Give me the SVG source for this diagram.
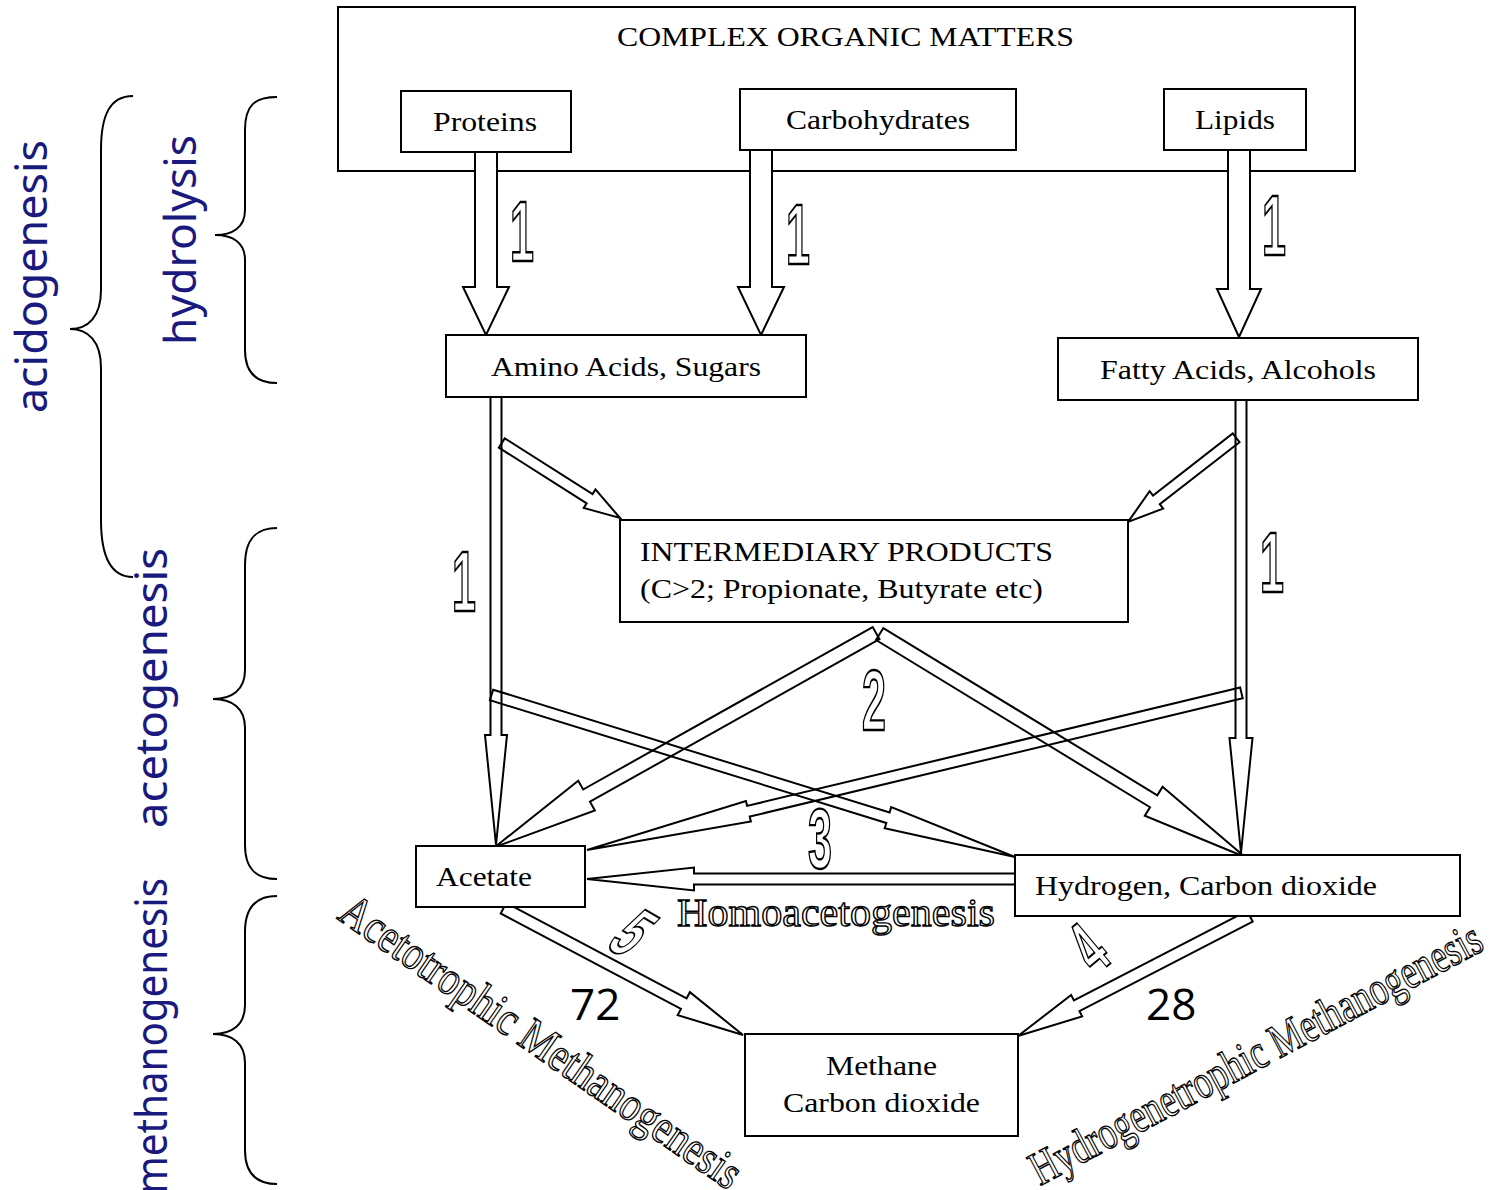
<svg xmlns="http://www.w3.org/2000/svg" width="1493" height="1190" viewBox="0 0 1493 1190">
<style>
.box{fill:#fff;stroke:#000;stroke-width:2}
.t{font-family:"Liberation Serif",serif;font-size:28px;fill:#000}
.arw{fill:#fff;stroke:#000;stroke-width:2;stroke-linejoin:miter}
.thin{fill:none;stroke:#000;stroke-width:2;stroke-linejoin:miter}
.num{font-family:"Liberation Sans",sans-serif;font-weight:bold;font-size:86px;fill:#fff;stroke:#000;stroke-width:2.4;text-anchor:middle}
.ol{font-family:"Liberation Serif",serif;fill:#fff;stroke:#000;stroke-width:1.4}
.phase{font-family:"Noto Sans",sans-serif;fill:#1a1a7e;font-size:44px}
.brace{fill:none;stroke:#000;stroke-width:2}
.pct{font-family:"Open Sans",sans-serif;font-size:44px;fill:#000}
</style>
<rect width="1493" height="1190" fill="#fff"/>

<g id="phases">
  <path class="brace" d="M133,96 C110,96 101,115 101,150 L101,290 C101,317 88,329 70,329 C88,329 101,341 101,368 L101,520 C101,555 110,577 133,577"/>
  <path class="brace" d="M277,97 C255,97 245,105 245,130 L245,210 C245,228 232,235 215,235 C232,235 245,242 245,260 L245,350 C245,372 255,383 277,383"/>
  <path class="brace" d="M277,528 C255,528 245,540 245,565 L245,670 C245,690 232,699 213,699 C232,699 245,708 245,728 L245,845 C245,868 255,879 277,879"/>
  <path class="brace" d="M277,896 C255,896 245,908 245,932 L245,1005 C245,1025 232,1034 213,1034 C232,1034 245,1043 245,1063 L245,1150 C245,1172 255,1184 277,1184"/>
  <text class="phase" transform="translate(47,413) rotate(-90)" textLength="273" lengthAdjust="spacingAndGlyphs">acidogenesis</text>
  <text class="phase" transform="translate(196,345) rotate(-90)" textLength="210" lengthAdjust="spacingAndGlyphs">hydrolysis</text>
  <text class="phase" transform="translate(167,828) rotate(-90)" textLength="280" lengthAdjust="spacingAndGlyphs">acetogenesis</text>
  <text class="phase" transform="translate(167,1194) rotate(-90)" textLength="316" lengthAdjust="spacingAndGlyphs">methanogenesis</text>
</g>

<g id="complex">
  <rect class="box" x="338" y="7" width="1017" height="164"/>
  <text class="t" x="617" y="46" textLength="457" lengthAdjust="spacingAndGlyphs">COMPLEX ORGANIC MATTERS</text>
</g>
<g id="proteins">
  <rect class="box" x="401" y="91" width="170" height="61"/>
  <text class="t" x="433" y="131" textLength="104" lengthAdjust="spacingAndGlyphs">Proteins</text>
</g>
<g id="carbohydrates">
  <rect class="box" x="740" y="89" width="276" height="61"/>
  <text class="t" x="786" y="129" textLength="184" lengthAdjust="spacingAndGlyphs">Carbohydrates</text>
</g>
<g id="lipids">
  <rect class="box" x="1164" y="89" width="142" height="61"/>
  <text class="t" x="1195" y="129" textLength="80" lengthAdjust="spacingAndGlyphs">Lipids</text>
</g>

<g id="connectors">
  <polygon class="arw" transform="translate(486,335) rotate(90)" points="-183,-11 -48,-11 -48,-23 0,0 -48,23 -48,11 -183,11"/>
  <polygon class="arw" transform="translate(761,335) rotate(90)" points="-185,-11 -48,-11 -48,-23 0,0 -48,23 -48,11 -185,11"/>
  <polygon class="arw" transform="translate(1239,337) rotate(90)" points="-187,-11 -48,-11 -48,-22 0,0 -48,22 -48,11 -187,11"/>

  <polygon class="thin" transform="translate(496,845) rotate(90)" points="-448,-5.5 -110,-5.5 -110,-11 0,0 -110,11 -110,5.5 -448,5.5"/>
  <polygon class="thin" transform="translate(620,518) rotate(32.4)" points="-140,-5.5 -36,-5.5 -36,-11 0,0 -36,11 -36,5.5 -140,5.5"/>
  <polygon class="thin" transform="translate(1241,853) rotate(90)" points="-453,-5.5 -115,-5.5 -115,-11.5 0,0 -115,11.5 -115,5.5 -453,5.5"/>
  <polygon class="thin" transform="translate(1128,522) rotate(142.1)" points="-137,-5.5 -36,-5.5 -36,-11 0,0 -36,11 -36,5.5 -137,5.5"/>
  <polygon class="thin" transform="translate(495,847) rotate(150.7)" points="-437,-7 -105,-7 -105,-17 0,0 -105,17 -105,7 -437,7"/>
  <polygon class="thin" transform="translate(1245,857) rotate(31.4)" points="-428,-7 -107,-7 -107,-17 0,0 -107,17 -107,7 -428,7"/>
  <polygon class="thin" transform="translate(1015,857) rotate(17.2)" points="-548,-5.5 -133,-5.5 -133,-11 0,0 -133,11 -133,5.5 -548,5.5"/>
  <polygon class="thin" transform="translate(587,850) rotate(166.5)" points="-673,-5.5 -166,-5.5 -166,-10.5 0,0 -166,10.5 -166,5.5 -673,5.5"/>
  <polygon class="thin" transform="translate(587,879) rotate(180)" points="-428,-5.5 -107,-5.5 -107,-11.5 0,0 -107,11.5 -107,5.5 -428,5.5"/>
  <polygon class="thin" transform="translate(743,1035) rotate(27.9)" points="-271,-6 -67,-6 -67,-13 0,0 -67,13 -67,6 -271,6"/>
  <polygon class="thin" transform="translate(1018,1036) rotate(152.7)" points="-261,-6 -66,-6 -66,-12 0,0 -66,12 -66,6 -261,6"/>

  <text class="num" transform="translate(522,261) scale(0.5,1)">1</text>
  <text class="num" transform="translate(798,264) scale(0.5,1)">1</text>
  <text class="num" transform="translate(1274,255) scale(0.5,1)">1</text>
  <text class="num" transform="translate(464,611) scale(0.5,1)">1</text>
  <text class="num" transform="translate(1272,592) scale(0.5,1)">1</text>
  <text class="num" transform="translate(874,730) scale(0.5,1)">2</text>
  <text class="num" transform="translate(820,868) scale(0.5,1)">3</text>
  <text class="num" style="font-size:76px;stroke-width:2" transform="translate(614,952) rotate(30) skewX(-15) scale(0.55,1)">5</text>
  <text class="num" style="font-size:76px;stroke-width:2" transform="translate(1105,968) rotate(-40) scale(0.55,1)">4</text>

  <text class="ol" style="font-size:41px" x="677" y="926" textLength="318" lengthAdjust="spacingAndGlyphs">Homoacetogenesis</text>
  <text class="ol" style="font-size:48px" transform="translate(336,918) rotate(34.8)" textLength="478" lengthAdjust="spacingAndGlyphs">Acetotrophic Methanogenesis</text>
  <text class="ol" style="font-size:48px" transform="translate(1040,1186) rotate(-28)" textLength="505" lengthAdjust="spacingAndGlyphs">Hydrogenetrophic Methanogenesis</text>
  <text class="pct" x="570" y="1020">72</text>
  <text class="pct" x="1146" y="1020">28</text>
</g>

<g id="amino">
  <rect class="box" x="446" y="335" width="360" height="62"/>
  <text class="t" x="491" y="376" textLength="270" lengthAdjust="spacingAndGlyphs">Amino Acids, Sugars</text>
</g>
<g id="fatty">
  <rect class="box" x="1058" y="338" width="360" height="62"/>
  <text class="t" x="1100" y="379" textLength="276" lengthAdjust="spacingAndGlyphs">Fatty Acids, Alcohols</text>
</g>
<g id="intermediary">
  <rect class="box" x="620" y="520" width="508" height="102"/>
  <text class="t" x="640" y="561" textLength="413" lengthAdjust="spacingAndGlyphs">INTERMEDIARY PRODUCTS</text>
  <text class="t" x="640" y="598" textLength="403" lengthAdjust="spacingAndGlyphs">(C&gt;2; Propionate, Butyrate etc)</text>
</g>
<g id="acetate">
  <rect class="box" x="416" y="846" width="169" height="61"/>
  <text class="t" x="436" y="886" textLength="96" lengthAdjust="spacingAndGlyphs">Acetate</text>
</g>
<g id="hydrogen">
  <rect class="box" x="1015" y="855" width="445" height="61"/>
  <text class="t" x="1035" y="895" textLength="342" lengthAdjust="spacingAndGlyphs">Hydrogen, Carbon dioxide</text>
</g>
<g id="methane">
  <rect class="box" x="745" y="1034" width="273" height="102"/>
  <text class="t" x="826" y="1075" textLength="111" lengthAdjust="spacingAndGlyphs">Methane</text>
  <text class="t" x="783" y="1112" textLength="197" lengthAdjust="spacingAndGlyphs">Carbon dioxide</text>
</g>
</svg>
